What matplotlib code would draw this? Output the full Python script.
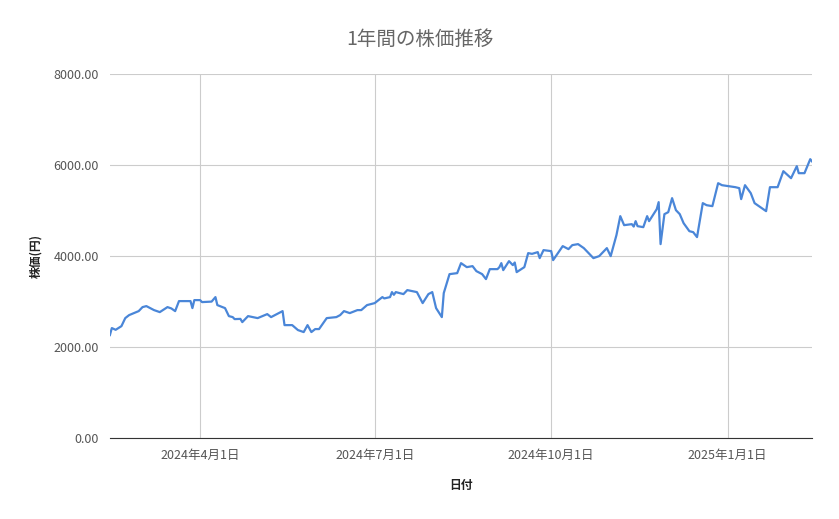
import matplotlib
matplotlib.use("Agg")
import matplotlib.pyplot as plt
import datetime as dt

plt.rcParams['font.family'] = ['Noto Sans CJK JP', 'DejaVu Sans']

start = dt.date(2024, 2, 14)
day_offsets = [0,1,3,6,8,10,15,17,19,23,26,30,32,34,36,42,43,44,47,48,53,55,56,60,62,64,65,68,69,72,77,82,84,90,91,95,98,101,103,105,107,109,113,118,120,122,
               125,129,131,134,138,142,143,146,147,148,149,153,155,160,163,166,168,170,173,174,177,181,183,186,189,191,194,196,198,202,203,204,205,208,210,211,212,216,218,220,223,224,226,230,231,236,239,241,244,
               247,252,255,259,261,264,266,268,272,273,274,275,278,280,281,283,285,286,287,289,291,293,295,297,299,302,304,306,309,311,314,317,319,326,328,329,331,334,336,339,342,344,348,351,355,358,359,362,365,366]
prices = [2264,2418,2380,2460,2637,2703,2791,2879,2901,2813,2769,2879,2850,2791,3011,3011,2857,3033,3033,2989,3000,3099,2923,2857,2681,2659,2615,2620,2549,2681,2637,2725,2659,2791,2483,2483,2374,2330,2483,2330,2396,2396,2637,2659,2703,2791,
          2747,2813,2813,2923,2967,3099,3070,3099,3209,3150,3209,3165,3253,3209,2967,3165,3209,2857,2659,3187,3604,3626,3846,3758,3780,3670,3604,3495,3714,3714,3758,3846,3692,3890,3802,3860,3648,3758,4066,4050,4088,3956,4132,4110,3912,4220,4154,4242,4264,
          4176,3956,4000,4176,4000,4462,4879,4681,4703,4650,4769,4659,4637,4879,4769,4901,5033,5187,4264,4923,4967,5275,5011,4923,4725,4549,4527,4418,5165,5120,5099,5604,5560,5516,5495,5253,5560,5385,5165,5077,4989,5516,5516,5868,5714,5978,5824,5824,6132,6080]
dates = [start + dt.timedelta(days=d) for d in day_offsets]
tick_dates = [dt.date(2024,4,1), dt.date(2024,7,1), dt.date(2024,10,1), dt.date(2025,1,1)]
tick_labels = ['2024年4月1日', '2024年7月1日', '2024年10月1日', '2025年1月1日']
y_ticks = [0, 2000, 4000, 6000, 8000]

fig = plt.figure(figsize=(8.39, 5.19), dpi=100)
ax = fig.add_axes([0.131, 0.156, 0.837, 0.701])
ax.plot(dates, prices, color='#4a86d8', lw=1.6)
ax.set_xlim(start, start + dt.timedelta(days=366))
ax.set_ylim(0, 8000)
ax.set_xticks(tick_dates)
ax.set_xticklabels(tick_labels)
ax.set_yticks(y_ticks)
ax.set_yticklabels([f"{v:.2f}" for v in y_ticks])
ax.grid(True, color='#cccccc', lw=0.8)
ax.set_axisbelow(True)
for s in ['top', 'right', 'left']:
    ax.spines[s].set_visible(False)
ax.spines['bottom'].set_color('#333333')
ax.tick_params(length=0, colors='#555555', labelsize=9, pad=8)
ax.set_ylabel('株価(円)', fontsize=8.5, fontweight='bold', color='#222222', labelpad=8)
ax.set_xlabel('日付', fontsize=8.5, fontweight='bold', color='#222222', labelpad=12)
fig.suptitle('1年間の株価推移', x=0.5, y=0.945, fontsize=14, color='#666666')
fig.savefig('out.png')
